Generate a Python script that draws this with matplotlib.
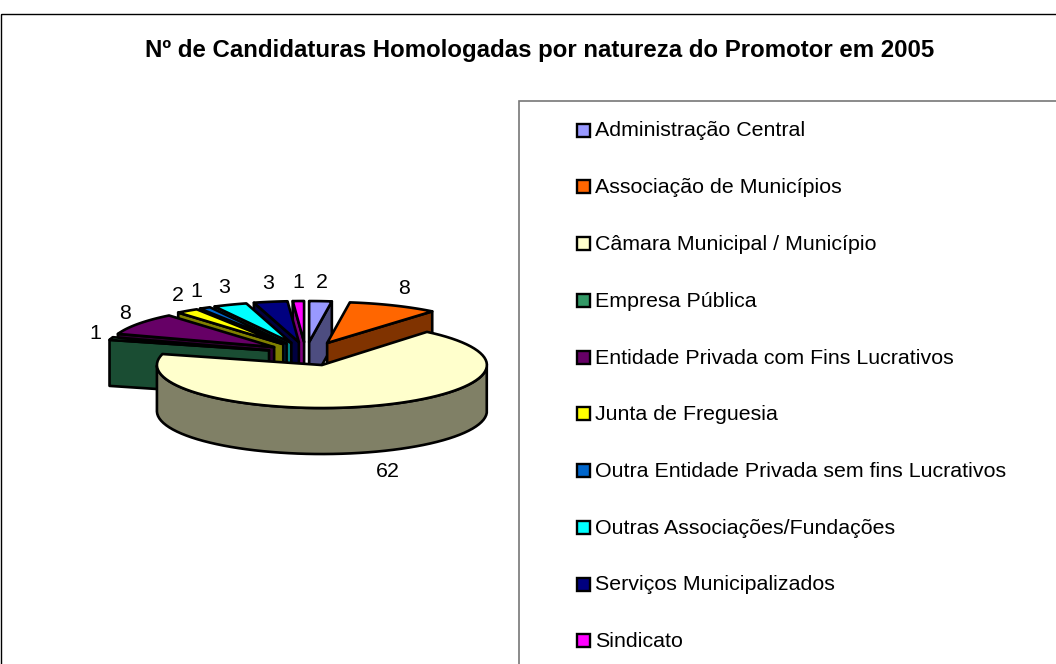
import numpy as np
import matplotlib
matplotlib.use("Agg")
import matplotlib.pyplot as plt
from matplotlib.patches import Polygon, Rectangle

title = "Nº de Candidaturas Homologadas por natureza do Promotor em 2005"
categories = ["Administração Central", "Associação de Municípios", "Câmara Municipal / Município",
              "Empresa Pública", "Entidade Privada com Fins Lucrativos", "Junta de Freguesia",
              "Outra Entidade Privada sem fins Lucrativos", "Outras Associações/Fundações",
              "Serviços Municipalizados", "Sindicato"]
values = [2, 8, 62, 1, 8, 2, 1, 3, 3, 1]
colors = ["#9999FF", "#FF6600", "#FFFFCC", "#339966", "#660066", "#FFFF00",
          "#0066CC", "#00FFFF", "#000080", "#FF00FF"]

W, H = 1056, 664
FONT = "Liberation Sans"
LW = 1.9
CX, CY = 305.4, 353.8      # pie centre
EY = 11.8                  # vertical explosion
RX = 165.0
RY = 41.0
DEPTH = 46.0

fig = plt.figure(figsize=(W / 100, H / 100), dpi=100)
ax = fig.add_axes([0, 0, 1, 1])
ax.set_xlim(0, W)
ax.set_ylim(H, 0)
ax.axis("off")


def dark(c):
    return tuple(v * 0.5 for v in matplotlib.colors.to_rgb(c))


def poly(pts, fc, z):
    ax.add_patch(Polygon(pts, closed=True, fc=fc, ec="black", lw=LW, joinstyle="round", zorder=z))


total = sum(values)
edges = np.concatenate([[0], np.cumsum(values)]) / total * 2 * np.pi
# back-to-front paint order
order = [9, 8, 7, 6, 5, 4, 3, 0, 1, 2]
for z, i in enumerate(order):
    a0, a1 = edges[i], edges[i + 1]
    mid = (a0 + a1) / 2
    back = np.cos(mid) > 0
    on_left = np.sin(mid) < 0
    ex = 38.0 if on_left else 54.0
    ry = RY if back else 43.0
    ax_, ay_ = CX + ex * np.sin(mid), CY - EY * np.cos(mid)
    t = np.linspace(a0, a1, 80)
    ox, oy = ax_ + RX * np.sin(t), ay_ - ry * np.cos(t)
    top = np.column_stack([np.r_[ax_, ox], np.r_[ay_, oy]])
    side = dark(colors[i])
    zb = z * 3 + 1
    # outer wall: the part of the rim facing the viewer
    mask = np.cos(t) < 0
    if mask.any():
        wx, wy = ox[mask], oy[mask]
        poly(np.column_stack([np.r_[wx, wx[::-1]], np.r_[wy, wy[::-1] + DEPTH]]), side, zb)
    # cut face along the lower boundary of a back slice
    if back:
        a = a0 if on_left else a1
        ex_, ey_ = ax_ + RX * np.sin(a), ay_ - ry * np.cos(a)
        poly([(ax_, ay_), (ex_, ey_), (ex_, ey_ + DEPTH), (ax_, ay_ + DEPTH)], side, zb + 1)
    poly(top, colors[i], zb + 2)
    # data label
    lf = 1.1 if on_left else 1.15
    lx = ax_ + lf * RX * np.sin(mid) + (0 if back else 8)
    ly = ay_ - 60 * np.cos(mid) if back else ay_ - lf * ry * np.cos(mid) + DEPTH + 13
    ax.text(lx, ly, str(values[i]), fontsize=15.4, family=FONT, ha="center", va="center", color="black", zorder=100)

# chart border and title
ax.add_patch(Rectangle((0.5, 13.5), W + 10, H, fc="none", ec="black", lw=1.0, zorder=0))
ax.text(540, 50, title, fontsize=17.3, family=FONT, fontweight="bold", ha="center", va="center", zorder=100)

# legend
ax.add_patch(Rectangle((519, 101), W, H, fc="white", ec="#777777", lw=1.2, zorder=50))
for i, (c, col) in enumerate(zip(categories, colors)):
    y = 130.0 + 56.75 * i
    ax.add_patch(Rectangle((576.5, y - 6.5), 13, 13, fc=col, ec="black", lw=1.7, zorder=60))
    ax.text(595, y + 1, c, fontsize=15.4, family=FONT, ha="left", va="center", color="black", zorder=60)

fig.savefig("out.png", dpi=100)
